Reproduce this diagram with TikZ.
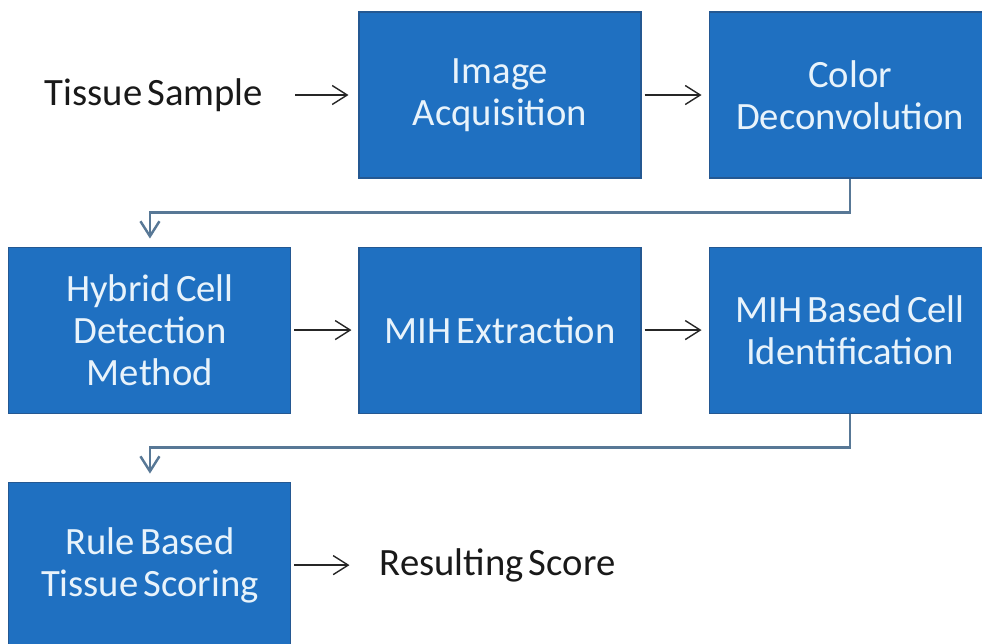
\documentclass[tikz,border=0pt]{standalone}
\usepackage{fontspec}
\setmainfont{Carlito}[WordSpace=0.6]
\usetikzlibrary{arrows.meta, positioning}

\definecolor{boxblue}{RGB}{31,112,193}
\definecolor{boxedge}{RGB}{36,88,146}
\definecolor{boxtext}{RGB}{232,243,251}
\definecolor{linkgray}{RGB}{88,120,150}

\begin{document}
\begin{tikzpicture}[
	node distance=1.34cm,
	font=\fontsize{22}{24}\selectfont,
	block/.style={draw=boxedge, fill=boxblue, text=boxtext, line width=0.6pt,
		text width=5.3cm, inner sep=0.17cm, minimum height=3.32cm, align=flush center},
	label/.style={text=black!90, inner sep=0pt},
	flow/.style={-{Straight Barb[length=0.3cm, width=0.38cm]}, line width=0.8pt, draw=black!85},
	link/.style={-{Straight Barb[length=0.3cm, width=0.38cm]}, line width=1.4pt, draw=linkgray}
	]
\useasboundingbox (0,0) rectangle (19.64,-12.86);

\node[block] (acq) at (10.0,-1.9) {Image\\ Acquisition};
\node[block, right=of acq] (dec) {Color\\ Deconvolution};
\node[block, below=1.36cm of acq] (ext) {MIH Extraction};
\node[block, left=of ext] (hyb) {Hybrid Cell\\ Detection\\ Method};
\node[block, right=of ext] (mih) {MIH Based Cell\\ Identification};
\node[block, below=1.36cm of hyb] (rule) {Rule Based\\ Tissue Scoring};

\node[label, left=1.9cm of acq] (tissue) {Tissue Sample};
\node[label, right=1.76cm of rule] (score) {Resulting Score};

\draw[flow, shorten <=0.64cm, shorten >=0.2cm] (tissue) -- (acq);
\draw[flow, shorten <=0.06cm, shorten >=0.14cm] (acq) -- (dec);
\draw[flow, shorten <=0.06cm, shorten >=0.14cm] (hyb) -- (ext);
\draw[flow, shorten <=0.06cm, shorten >=0.14cm] (ext) -- (mih);
\draw[flow, shorten <=0.06cm, shorten >=0.6cm] (rule) -- (score);

% row to row
\draw[link, shorten >=0.16cm] (dec.south) -- ++(0,-0.68) -| (hyb.north);
\draw[link, shorten >=0.16cm] (mih.south) -- ++(0,-0.68) -| (rule.north);
\end{tikzpicture}
\end{document}
